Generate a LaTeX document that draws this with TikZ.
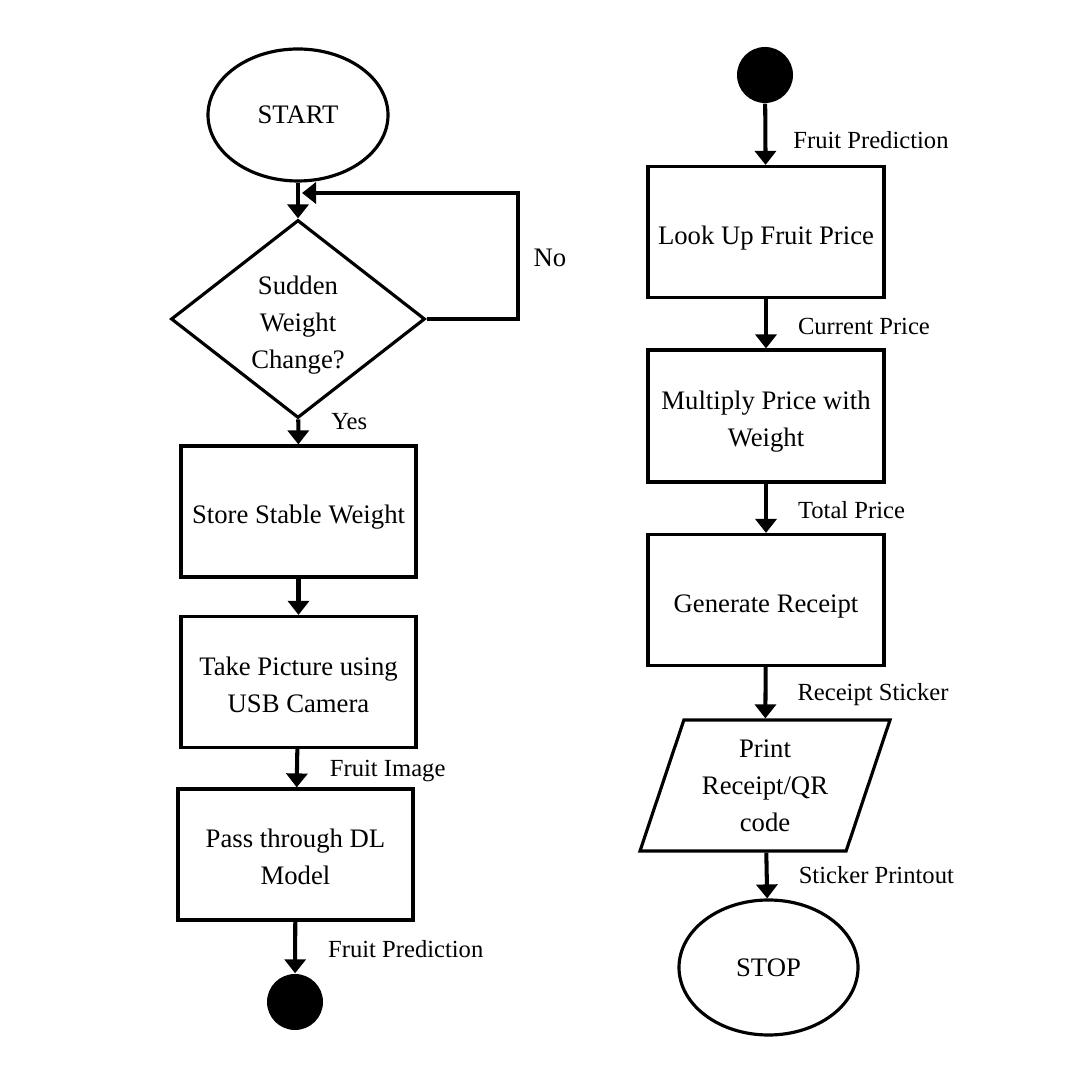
\documentclass[tikz,border=0pt]{standalone}
\usepackage{fontspec}
\setmainfont{Liberation Serif}
\usetikzlibrary{arrows.meta,shapes.geometric}
\tikzset{
  procbox/.style={draw,line width=0.9pt,rectangle,minimum width=2.36cm,minimum height=1.31cm,align=center,inner sep=2pt,text depth=0pt,text height=7pt},
  twolines/.style={text height=17.2pt},
  termnode/.style={draw,line width=0.9pt,ellipse,minimum width=1.8cm,minimum height=1.32cm},
  decnode/.style={draw,line width=0.9pt,diamond,aspect=1.28,inner sep=0pt,minimum width=2.54cm,minimum height=1.98cm,align=center,text height=27.9pt,text depth=0pt},
  ionode/.style={draw,line width=0.9pt,trapezium,trapezium left angle=66,trapezium right angle=114,trapezium stretches body,minimum width=2.5cm,minimum height=1.31cm,align=center,inner sep=1pt,text depth=0pt},
  connode/.style={fill,circle,minimum size=0.56cm,inner sep=0pt},
  flowlbl/.style={font=\fontsize{7}{8}\selectfont,inner sep=0pt},
  flowarr/.style={-{Triangle[width=2.1mm,length=1.4mm]},line width=1.15pt}
}

\begin{document}
\begin{tikzpicture}[font=\fontsize{7.6}{10.5}\selectfont]
  \useasboundingbox (0,0) rectangle (10.8,10.8);

  % left column
  \node[termnode] (start) at (2.98,9.65) {START};
  \node[decnode] (decide) at (2.98,7.61) {Sudden\\Weight\\Change?};
  \node[procbox,minimum width=2.35cm] (store) at (2.985,5.685) {Store Stable Weight};
  \node[procbox,twolines,minimum width=2.35cm] (capture) at (2.985,3.98) {Take Picture using\\USB Camera};
  \node[procbox,twolines,minimum width=2.35cm] (model) at (2.955,2.255) {Pass through DL\\Model};
  \node[connode] (endL) at (2.95,0.78) {};

  % right column
  \node[connode] (conR) at (7.65,10.05) {};
  \node[procbox] (lookup) at (7.66,8.48) {Look Up Fruit Price};
  \node[procbox,twolines,minimum height=1.32cm] (multiply) at (7.66,6.64) {Multiply Price with\\Weight};
  \node[procbox] (receipt) at (7.66,4.80) {Generate Receipt};
  \node[ionode] (print) at (7.65,2.945) {Print\\Receipt/QR\\code};
  \node[termnode,minimum width=1.79cm,minimum height=1.35cm] (stop) at (7.685,1.125) {STOP};

  % connectors
  \draw[flowarr] (start) -- (decide);
  \draw[flowarr] (decide) -- node[flowlbl,pos=0.1,right=0.31cm] {Yes} (store);
  \draw[flowarr] (store) -- (capture);
  \foreach \src/\dst/\txt/\where/\gap in {capture/model/Fruit Image/0.57/0.31,
      model/endL/Fruit Prediction/0.53/0.31,
      conR/lookup/Fruit Prediction/0.6/0.26,
      lookup/multiply/Current Price/0.55/0.3,
      multiply/receipt/Total Price/0.53/0.3,
      receipt/print/Receipt Sticker/0.54/0.3,
      print/stop/Sticker Printout/0.48/0.3} {
    \draw[flowarr] (\src) -- node[flowlbl,pos=\where,right=\gap cm] {\txt} (\dst);
  }

  % no-loop back to the decision
  \coordinate (loopturn) at (5.18,8.87);
  \coordinate (loopin) at (3.02,8.87);
  \draw[flowarr] (decide.east) -| (loopturn) -- (loopin);
  \node (nolbl) at (5.50,8.22) {No};
\end{tikzpicture}
\end{document}
